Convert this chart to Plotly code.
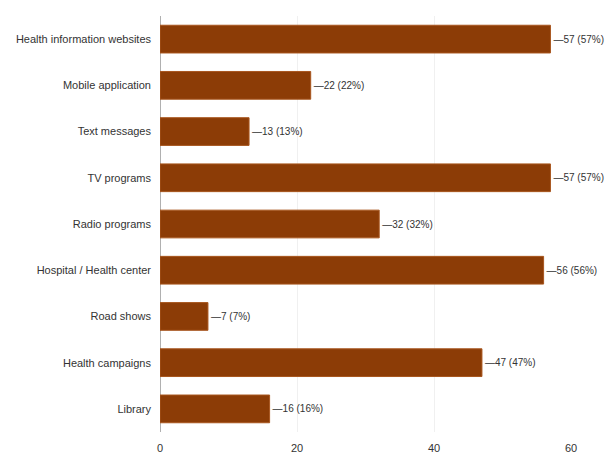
import plotly.graph_objects as go

categories = ["Health information websites", "Mobile application", "Text messages",
              "TV programs", "Radio programs", "Hospital / Health center",
              "Road shows", "Health campaigns", "Library"]
counts = [57, 22, 13, 57, 32, 56, 7, 47, 16]
percents = [57, 22, 13, 57, 32, 56, 7, 47, 16]
x_ticks = [0, 20, 40, 60]

labels = [f"\u2014{c} ({p}%)" for c, p in zip(counts, percents)]

font_family = "Liberation Sans Narrow, Arial Narrow, Liberation Sans, sans-serif"

fig = go.Figure(go.Bar(
    y=categories, x=counts, orientation="h",
    marker=dict(color="#8c3c06", line=dict(color="#a8561e", width=1)),
    text=labels, textposition="outside", cliponaxis=False,
    textfont=dict(family=font_family, size=10, color="#333333"),
))

fig.update_layout(
    width=608, height=470,
    margin=dict(l=160, r=37, t=16, b=38),
    paper_bgcolor="white", plot_bgcolor="white",
    bargap=0.4, showlegend=False,
    font=dict(family=font_family, size=11, color="#333333"),
)
fig.update_yaxes(autorange="reversed", showgrid=False, ticks="", ticklabelstandoff=8,
                 automargin=False,
                 tickfont=dict(family=font_family, size=11, color="#333333"))
fig.update_xaxes(range=[0, 60], tickvals=x_ticks, showgrid=True, gridcolor="#f0f0f0",
                 zeroline=True, zerolinecolor="#b0b0b0", zerolinewidth=1,
                 automargin=False, ticklabelstandoff=8,
                 tickfont=dict(family=font_family, size=11, color="#333333"))

fig.write_html("out.html", config={"displayModeBar": False},
               post_script="document.body.style.margin='0';document.body.style.overflow='hidden';")
